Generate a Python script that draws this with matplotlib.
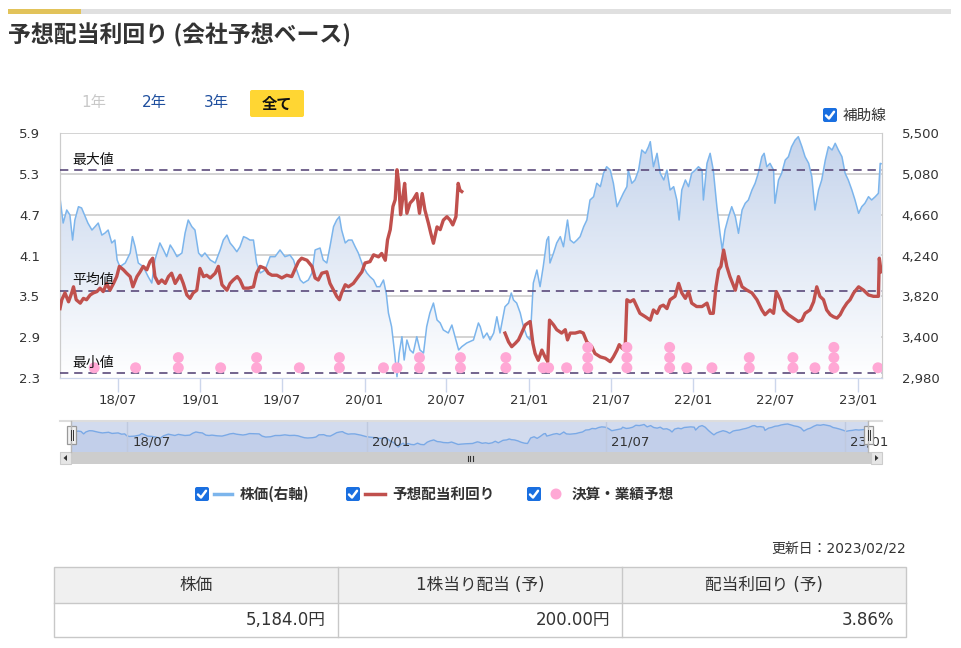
import matplotlib
matplotlib.use('Agg')
import matplotlib.pyplot as plt
import matplotlib.dates as mdates
import matplotlib.transforms as mtrans
from matplotlib.patches import Rectangle, FancyBboxPatch, Polygon, Circle
from matplotlib.ticker import FuncFormatter
import numpy as np
from datetime import datetime, timedelta

plt.rcParams['font.family'] = ['DejaVu Sans', 'Noto Sans CJK JP']

# days counted from 2018-02-22
start = datetime(2018, 2, 22)

price_day = [1, 8, 16, 23, 29, 34, 42, 49, 57, 63, 72, 79, 86, 94, 101, 108, 116, 123, 128, 134,
             146, 157, 162, 168, 175, 186, 197, 205, 212, 223, 231, 238, 246, 253, 261, 272, 279, 286, 294, 301,
             309, 316, 323, 335, 346, 357, 364, 372, 379, 386, 394, 401, 409, 416, 423, 431, 438, 446, 457, 468,
             479, 490, 501, 512, 520, 527, 535, 542, 553, 561, 568, 579, 586, 594, 601, 609, 616, 622, 627, 635,
             642, 650, 657, 664, 675, 683, 690, 698, 705, 712, 720, 726, 731, 738, 744, 750, 755, 761, 766, 772,
             779, 786, 794, 801, 809, 816, 823, 831, 839, 846, 853, 864, 872, 879, 887, 894, 905, 920, 931, 935,
             942, 950, 957, 965, 972, 979, 990, 998, 1004, 1009, 1016, 1024, 1031, 1039, 1046, 1050, 1053, 1061, 1068, 1075,
             1083, 1087, 1090, 1098, 1105, 1113, 1120, 1129, 1135, 1143, 1150, 1157, 1165, 1172, 1179, 1187, 1194, 1202, 1209, 1216,
             1224, 1231, 1239, 1246, 1253, 1261, 1264, 1272, 1279, 1287, 1294, 1302, 1309, 1313, 1320, 1328, 1335, 1343, 1350, 1357,
             1365, 1372, 1377, 1383, 1391, 1398, 1405, 1413, 1420, 1428, 1431, 1439, 1446, 1453, 1461, 1468, 1473, 1479, 1487, 1494,
             1502, 1509, 1517, 1524, 1531, 1539, 1546, 1553, 1561, 1566, 1572, 1579, 1587, 1590, 1598, 1605, 1613, 1620, 1627, 1635,
             1642, 1650, 1657, 1665, 1672, 1679, 1687, 1694, 1702, 1709, 1717, 1724, 1731, 1739, 1746, 1753, 1761, 1768, 1776, 1783,
             1790, 1798, 1805, 1813, 1820, 1824, 1826]
price_val = [4832, 4574, 4708, 4657, 4399, 4605, 4742, 4729, 4640, 4574, 4502, 4537, 4574, 4450, 4471, 4502, 4369, 4399, 4194, 4125,
             4163, 4266, 4434, 4330, 4163, 4125, 4022, 3957, 4194, 4369, 4297, 4228, 4348, 4297, 4228, 4266, 4471, 4605, 4537, 4502,
             4266, 4228, 4266, 4194, 4163, 4297, 4399, 4450, 4369, 4330, 4279, 4330, 4434, 4420, 4399, 4399, 4163, 4060, 4091, 4228,
             4228, 4297, 4228, 4245, 4194, 4091, 3988, 3957, 3988, 4060, 4297, 4317, 4194, 4163, 4330, 4537, 4605, 4640, 4502, 4369,
             4399, 4399, 4330, 4266, 4125, 4060, 4022, 3988, 3919, 3919, 3988, 3854, 3648, 3508, 3268, 2993, 3237, 3405, 3165, 3371,
             3268, 3237, 3405, 3268, 3237, 3508, 3648, 3751, 3577, 3546, 3474, 3443, 3525, 3405, 3268, 3302, 3340, 3371, 3546, 3508,
             3391, 3443, 3371, 3443, 3610, 3443, 3713, 3751, 3854, 3782, 3751, 3648, 3508, 3405, 3371, 3713, 3957, 4091, 3919, 4125,
             4399, 4434, 4163, 4266, 4369, 4434, 4330, 4605, 4399, 4369, 4399, 4434, 4537, 4605, 4811, 4845, 4983, 4948, 5086, 5153,
             5119, 4983, 4742, 4811, 4880, 4948, 5119, 4983, 5017, 5119, 5325, 5291, 5359, 5411, 5153, 5291, 5086, 5017, 5119, 4914,
             4948, 4811, 4605, 4914, 5017, 4948, 5086, 5119, 5153, 5119, 4811, 5188, 5291, 5119, 4742, 4468, 4297, 4502, 4640, 4742,
             4640, 4468, 4708, 4777, 4811, 4914, 4983, 5086, 5256, 5291, 5153, 5188, 5119, 4777, 5017, 5086, 5222, 5256, 5359, 5428,
             5462, 5359, 5256, 5188, 5051, 4708, 4914, 5017, 5222, 5359, 5325, 5394, 5325, 5256, 5086, 5017, 4914, 4811, 4674, 4742,
             4777, 4845, 4811, 4845, 4880, 5188, 5184]

yield1_day = [1, 5, 12, 20, 27, 31, 37, 46, 53, 60, 68, 75, 83, 90, 97, 105, 112, 120, 127, 133,
              142, 149, 157, 163, 172, 179, 186, 194, 201, 207, 212, 220, 227, 235, 242, 249, 257, 268, 275, 283,
              290, 297, 305, 312, 320, 327, 335, 346, 353, 361, 372, 379, 386, 395, 401, 409, 420, 431, 438, 446,
              457, 464, 472, 483, 494, 505, 516, 524, 531, 538, 550, 561, 568, 575, 583, 594, 601, 609, 616, 622,
              627, 635, 642, 653, 664, 672, 679, 690, 698, 709, 716, 724, 729, 735, 741, 746, 750, 754, 758, 763,
              767, 772, 779, 786, 794, 800, 806, 812, 820, 825, 831, 839, 846, 853, 861, 868, 874, 881, 886, 890, 894]
yield1_val = [3.32, 3.45, 3.55, 3.42, 3.55, 3.64, 3.45, 3.40, 3.47, 3.45, 3.52, 3.55, 3.57, 3.62, 3.57, 3.69, 3.59, 3.69, 3.79, 3.94,
              3.89, 3.84, 3.79, 3.64, 3.79, 3.86, 3.94, 3.89, 4.01, 4.06, 3.79, 3.69, 3.74, 3.69, 3.79, 3.84, 3.69, 3.81, 3.69, 3.52,
              3.47, 3.55, 3.59, 3.91, 3.79, 3.81, 3.77, 3.84, 3.94, 3.67, 3.59, 3.69, 3.74, 3.79, 3.74, 3.62, 3.62, 3.64, 3.84, 3.94,
              3.91, 3.84, 3.81, 3.81, 3.77, 3.81, 3.79, 3.91, 4.01, 4.06, 4.03, 3.94, 3.77, 3.74, 3.84, 3.86, 3.69, 3.59, 3.50, 3.45,
              3.55, 3.67, 3.64, 3.69, 3.79, 3.86, 3.99, 4.01, 4.11, 4.08, 4.13, 4.03, 4.33, 4.48, 4.82, 4.92, 5.36, 5.16, 4.70, 4.96,
              5.16, 4.72, 4.87, 4.92, 5.01, 4.72, 5.01, 4.77, 4.57, 4.43, 4.28, 4.52, 4.48, 4.62, 4.67, 4.62, 4.55, 4.67, 5.16, 5.06, 5.04]

yield2_day = [990, 998, 1005, 1013, 1020, 1027, 1035, 1046, 1052, 1057, 1064, 1072, 1079, 1085, 1089, 1098, 1105, 1116, 1124, 1129,
              1135, 1146, 1157, 1164, 1172, 1183, 1190, 1202, 1213, 1224, 1231, 1239, 1244, 1250, 1257, 1261, 1268, 1276, 1283, 1290,
              1302, 1313, 1320, 1328, 1335, 1342, 1350, 1357, 1368, 1376, 1383, 1391, 1398, 1405, 1416, 1428, 1439, 1446, 1453, 1459,
              1465, 1470, 1476, 1483, 1490, 1502, 1509, 1517, 1528, 1539, 1550, 1561, 1568, 1579, 1587, 1593, 1602, 1609, 1620, 1631,
              1642, 1650, 1657, 1668, 1676, 1683, 1690, 1698, 1705, 1713, 1720, 1728, 1735, 1742, 1750, 1757, 1765, 1776, 1787, 1798,
              1809, 1820, 1822, 1826]
yield2_val = [2.96, 2.83, 2.76, 2.81, 2.86, 2.96, 3.08, 3.13, 2.81, 2.66, 2.56, 2.71, 2.61, 2.54, 3.15, 3.08, 3.01, 2.96, 3.01, 2.86,
              2.96, 2.96, 2.98, 2.96, 2.83, 2.76, 2.66, 2.61, 2.59, 2.54, 2.61, 2.71, 2.79, 2.74, 2.71, 3.45, 3.42, 3.45, 3.35, 3.25,
              3.20, 3.15, 3.30, 3.25, 3.35, 3.37, 3.32, 3.45, 3.50, 3.69, 3.55, 3.47, 3.57, 3.40, 3.35, 3.35, 3.40, 3.25, 3.25, 3.64,
              3.89, 3.94, 4.18, 3.94, 3.79, 3.59, 3.79, 3.64, 3.59, 3.55, 3.45, 3.30, 3.23, 3.30, 3.25, 3.57, 3.45, 3.30, 3.23, 3.18,
              3.13, 3.15, 3.25, 3.30, 3.42, 3.64, 3.50, 3.45, 3.30, 3.23, 3.20, 3.18, 3.23, 3.32, 3.40, 3.45, 3.55, 3.64, 3.59, 3.52,
              3.50, 3.50, 4.06, 3.86]

# earnings / forecast events: day and number of stacked dots
event_day = [77, 169, 264, 358, 438, 533, 622, 720, 750, 800, 891, 992, 1075, 1087, 1127, 1174, 1261, 1356, 1394, 1450,
             1533, 1630, 1679, 1721, 1819]
event_count = [1, 1, 2, 1, 2, 1, 2, 1, 1, 2, 2, 2, 1, 1, 1, 3, 3, 3, 1, 1, 2, 2, 1, 3, 1]

yield_max, yield_avg, yield_min = 5.35, 3.58, 2.37
yield_ticks = [2.3, 2.9, 3.5, 4.1, 4.7, 5.3, 5.9]
price_ticks = [2980, 3400, 3820, 4240, 4660, 5080, 5500]


def to_dates(days):
    return [start + timedelta(days=d) for d in days]


W, H = 961, 648
fig = plt.figure(figsize=(W / 100, H / 100), dpi=100)


def rect(x0, y0, x1, y1):
    return [x0 / W, 1 - y1 / H, (x1 - x0) / W, (y1 - y0) / H]


# ---- main chart
ax_p = fig.add_axes(rect(60, 133, 882, 378))
ax_y = ax_p.twinx()

p_dates = to_dates(price_day)
xs = mdates.date2num(p_dates)
x0n = mdates.date2num(start + timedelta(days=1))
x1n = mdates.date2num(start + timedelta(days=1828))

verts = [(xs[0], 2980)] + list(zip(xs, price_val)) + [(xs[-1], 2980)]
poly = Polygon(verts, closed=True, facecolor='none', edgecolor='none')
ax_p.add_patch(poly)
g = np.linspace(0, 1, 256)[:, None, None]
top = np.array([0.77, 0.83, 0.925])
bot = np.array([1.0, 1.0, 1.0])
img = top * (1 - g) + bot * g
im = ax_p.imshow(img, extent=[x0n, x1n, 2980, 5500], aspect='auto', origin='upper', zorder=1)
im.set_clip_path(poly)
ax_p.plot(p_dates, price_val, color='#7cb5ec', lw=1.1, zorder=3)

ax_p.set_xlim(x0n, x1n)
ax_p.set_ylim(2980, 5500)
ax_p.set_yticks(price_ticks)
ax_p.yaxis.set_major_formatter(FuncFormatter(lambda v, p: f'{int(v):,}'))
ax_p.yaxis.tick_right()
ax_p.grid(axis='y', color='#d0d0d0', lw=1.3, zorder=0)
ax_p.set_axisbelow(True)
ax_p.xaxis.set_major_locator(mdates.MonthLocator(bymonth=[1, 7]))
ax_p.xaxis.set_major_formatter(mdates.DateFormatter('%y/%m'))
ax_p.tick_params(axis='x', length=10, color='#ccd6eb', width=1, labelsize=9.5, labelcolor='#333333', pad=1.5)
ax_p.tick_params(axis='y', length=0, labelsize=9.5, labelcolor='#333333', pad=14.2)

ax_y.plot(to_dates(yield1_day), yield1_val, color='#c0504d', lw=2.4, zorder=4)
ax_y.plot(to_dates(yield2_day), yield2_val, color='#c0504d', lw=2.4, zorder=4)
for v in (yield_max, yield_avg, yield_min):
    ax_y.axhline(v, color='#5b4a7a', lw=1.2, dashes=(5, 3.5), zorder=3)
ev_x, ev_y = [], []
for d, c in zip(event_day, event_count):
    for k in range(c):
        ev_x.append(start + timedelta(days=d))
        ev_y.append(2.45 + 0.15 * k)
ax_y.scatter(ev_x, ev_y, s=62, color='#ffa8d5', edgecolors='none', zorder=6)
ax_y.set_ylim(2.3, 5.9)
ax_y.set_yticks(yield_ticks)
ax_y.yaxis.set_major_formatter(FuncFormatter(lambda v, p: f'{v:.1f}'))
ax_y.yaxis.tick_left()
ax_y.tick_params(axis='y', length=0, labelsize=9.5, labelcolor='#333333', pad=14.4)
ax_y.set_xlim(x0n, x1n)

for a in (ax_p, ax_y):
    a.spines['top'].set_visible(False)
    a.spines['left'].set_color('#cccccc')
    a.spines['right'].set_color('#cccccc')
    a.spines['bottom'].set_color('#ccd6eb')

# ---- navigator
ax_n = fig.add_axes(rect(71, 421, 868, 452))
ax_n.set_facecolor('#d2dbee')
ax_n.fill_between(p_dates, price_val, 2456, color='#c2cfea', lw=0)
ax_n.plot(p_dates, price_val, color='#7aa9e6', lw=1.0)
ax_n.set_xlim(mdates.date2num(start), mdates.date2num(start + timedelta(days=1826)))
ax_n.set_ylim(2456, 5784)
ax_n.set_xticks([])
ax_n.set_yticks([])
for s in ax_n.spines.values():
    s.set_visible(False)
nav_ticks = [datetime(2018, 7, 1), datetime(2020, 1, 1), datetime(2021, 7, 1), datetime(2023, 1, 1)]
lbl_tr = mtrans.offset_copy(ax_n.get_xaxis_transform(), fig=fig, x=5, y=0, units='dots')
for t in nav_ticks:
    ax_n.axvline(t, color='#bfc9de', lw=1)
    ax_n.text(t, 0.32, t.strftime('%y/%m'), transform=lbl_tr, fontsize=9.5, color='#333333',
              va='center', ha='left', clip_on=False, zorder=5)

# ---- overlay in pixel coordinates
ov = fig.add_axes([0, 0, 1, 1])
ov.set_xlim(0, W)
ov.set_ylim(H, 0)
ov.axis('off')

ov.add_patch(Rectangle((8, 9), 943, 5, fc='#e0e0e0', ec='none'))
ov.add_patch(Rectangle((8, 9), 73, 5, fc='#e2c35a', ec='none'))
ov.text(8, 35, '予想配当利回り (会社予想ベース)', fontsize=16.5, fontweight='bold', color='#333333',
        va='center', ha='left', family=['Noto Sans CJK JP'])

ov.text(93.5, 103, '1年', fontsize=11, color='#c8c8c8', ha='center', va='center')
ov.text(154.5, 103, '2年', fontsize=11, color='#1f4f9e', ha='center', va='center')
ov.text(216.5, 103, '3年', fontsize=11, color='#1f4f9e', ha='center', va='center')
ov.add_patch(FancyBboxPatch((250, 90), 54, 27, boxstyle='round,pad=0,rounding_size=2', fc='#ffd633', ec='none'))
ov.text(277, 103.5, '全て', fontsize=11, fontweight='bold', color='#111111', ha='center', va='center',
        family=['Noto Sans CJK JP'])


def checkbox(x, y, size=14):
    ov.add_patch(FancyBboxPatch((x, y), size, size, boxstyle='round,pad=0,rounding_size=2',
                                fc='#1a6fe0', ec='none'))
    ov.plot([x + 3, x + 6, x + 11], [y + 7.5, y + 10.5, y + 3.8], color='white', lw=1.8,
            solid_capstyle='round', solid_joinstyle='round')


checkbox(823, 108)
ov.text(843, 115, '補助線', fontsize=10.5, color='#333333', ha='left', va='center')

ov.text(72, 160, '最大値', fontsize=10, color='#111111', ha='left', va='center')
ov.text(72, 280, '平均値', fontsize=10, color='#111111', ha='left', va='center')
ov.text(72, 363, '最小値', fontsize=10, color='#111111', ha='left', va='center')

# navigator frame, handles and scrollbar
ov.plot([60, 882], [421, 421], color='#dddddd', lw=1.5)
ov.plot([71, 71], [421, 452], color='#b8b8b8', lw=1)
ov.plot([868, 868], [421, 452], color='#b8b8b8', lw=1)
ov.add_patch(Rectangle((60, 452), 822, 12, fc='#cdcdcd', ec='none'))
ov.add_patch(Rectangle((60, 452), 11, 12, fc='#e6e6e6', ec='#cccccc', lw=0.8))
ov.add_patch(Rectangle((871, 452), 11, 12, fc='#e6e6e6', ec='#cccccc', lw=0.8))
ov.add_patch(Polygon([(63.5, 458), (67, 455), (67, 461)], closed=True, fc='#333333', ec='none'))
ov.add_patch(Polygon([(878.5, 458), (875, 455), (875, 461)], closed=True, fc='#333333', ec='none'))
for gx in (467.5, 470, 472.5):
    ov.plot([gx, gx], [455.5, 460.5], color='#333333', lw=0.8)
for hx in (67, 864):
    ov.add_patch(Rectangle((hx, 426), 9, 18, fc='#f2f2f2', ec='#999999', lw=0.9))
    ov.plot([hx + 3.5, hx + 3.5], [430, 440], color='#333333', lw=0.7)
    ov.plot([hx + 5.5, hx + 5.5], [430, 440], color='#333333', lw=0.7)

# legend
checkbox(195, 487)
ov.plot([214, 232], [494, 494], color='#7cb5ec', lw=2.5)
ov.text(240, 494, '株価(右軸)', fontsize=10.5, fontweight='bold', color='#333333', ha='left', va='center',
        family=['Noto Sans CJK JP'])
checkbox(346, 487)
ov.plot([365, 385], [494, 494], color='#c0504d', lw=2.5)
ov.text(392, 494, '予想配当利回り', fontsize=10.5, fontweight='bold', color='#333333', ha='left', va='center',
        family=['Noto Sans CJK JP'])
checkbox(527, 487)
ov.add_patch(Circle((556, 494), 5.5, fc='#ffa8d5', ec='none'))
ov.text(572, 494, '決算・業績予想', fontsize=10.5, fontweight='bold', color='#333333', ha='left', va='center',
        family=['Noto Sans CJK JP'])

# update date and summary table
ov.text(906, 549, '更新日：2023/02/22', fontsize=10, color='#333333', ha='right', va='center')
ov.add_patch(Rectangle((54, 567), 852, 36, fc='#f0f0f0', ec='none'))
ov.add_patch(Rectangle((54, 567), 852, 70, fc='none', ec='#c8c8c8', lw=1))
ov.plot([54, 906], [603, 603], color='#c8c8c8', lw=1)
for cx in (338, 622):
    ov.plot([cx, cx], [567, 637], color='#c8c8c8', lw=1)
headers = ['株価', '1株当り配当 (予)', '配当利回り (予)']
values = ['5,184.0円', '200.00円', '3.86%']
col_left = [54, 338, 622]
col_right = [338, 622, 906]
for h, v, l, r in zip(headers, values, col_left, col_right):
    ov.text((l + r) / 2, 585, h, fontsize=12, color='#333333', ha='center', va='center')
    ov.text(r - 12, 620, v, fontsize=12, color='#333333', ha='right', va='center')

fig.savefig('out.png', dpi=100)
